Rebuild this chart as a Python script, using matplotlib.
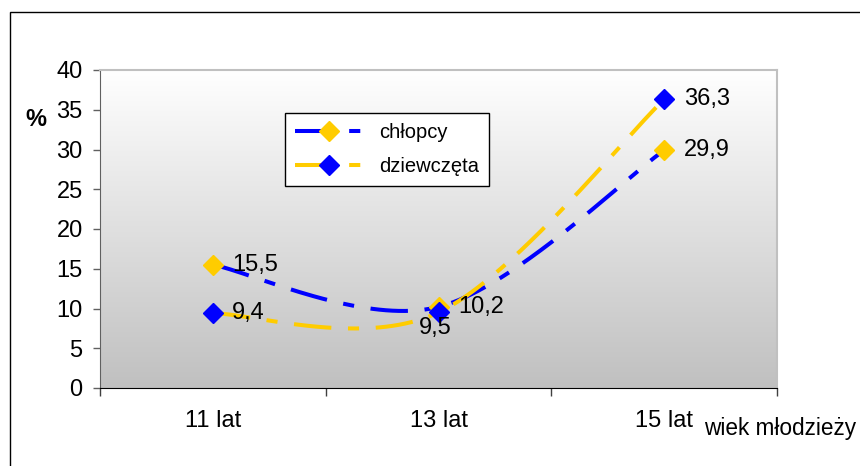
import numpy as np
import matplotlib
matplotlib.use("Agg")
import matplotlib.pyplot as plt
from matplotlib.lines import Line2D
from matplotlib.patches import Rectangle
from matplotlib.colors import LinearSegmentedColormap

plt.rcParams["font.family"] = ["Liberation Sans", "DejaVu Sans"]
plt.rcParams["lines.scale_dashes"] = False

# --- data -------------------------------------------------------------
categories = ["11 lat", "13 lat", "15 lat"]
chlopcy = [15.5, 10.2, 29.9]
dziewczeta = [9.4, 9.5, 36.3]
series_names = ["chłopcy", "dziewczęta"]
y_ticks = [0, 5, 10, 15, 20, 25, 30, 35, 40]
y_label = "%"
x_label = "wiek młodzieży"

# --- style ------------------------------------------------------------
BLUE = "#0000FF"
YELLOW = "#FFCC00"
DASH = (0, (27, 12, 8, 12))
LW = 2.9
MS = 10
FS = 17


def fmt(v):
    return f"{v:.1f}".replace(".", ",")


def smooth(xs, ys, n=80):
    """Bezier smoothing through every point (tension 1/6 of neighbour span)."""
    p = np.column_stack([xs, ys]).astype(float)
    out = []
    for i in range(len(p) - 1):
        prev = p[i - 1] if i > 0 else p[i]
        nxt = p[i + 2] if i + 2 < len(p) else p[i + 1]
        c1 = p[i] + (p[i + 1] - prev) / 6.0
        c2 = p[i + 1] - (nxt - p[i]) / 6.0
        t = np.linspace(0, 1, n)[:, None]
        seg = ((1 - t) ** 3) * p[i] + 3 * ((1 - t) ** 2) * t * c1 \
            + 3 * (1 - t) * t ** 2 * c2 + t ** 3 * p[i + 1]
        out.append(seg if i == 0 else seg[1:])
    s = np.vstack(out)
    return s[:, 0], s[:, 1]


fig = plt.figure(figsize=(8.6, 4.66), dpi=100)
ax = fig.add_axes([100 / 860, 1 - 388 / 466, 677 / 860, 318 / 466])

# plot-area gradient: white at the top fading to grey at the bottom
grad = LinearSegmentedColormap.from_list("bg", ["#ffffff", "#c0c0c0"])
ax.imshow(np.linspace(0, 1, 256).reshape(-1, 1), cmap=grad, aspect="auto",
          extent=[0, 1, 0, 1], transform=ax.transAxes, zorder=0,
          origin="upper", interpolation="bilinear")

x = np.arange(len(categories))
series = [
    (chlopcy, BLUE, YELLOW),
    (dziewczeta, YELLOW, BLUE),
]
for vals, lcol, mcol in series:
    sx, sy = smooth(x, vals)
    ax.plot(sx, sy, color=lcol, lw=LW, linestyle=DASH, zorder=3,
            solid_capstyle="butt", dash_capstyle="butt")
for vals, lcol, mcol in series:
    ax.plot(x, vals, linestyle="none", marker="D", ms=MS, mfc=mcol,
            mec=mcol, zorder=4)

# value labels
label_offsets = [
    [(14, 0), (14, 0), (14, 0)],
    [(14, 0), (-2, -11), (14, 0)],
]
for (vals, _, _), offs in zip(series, label_offsets):
    for xi, v, (dx, dy) in zip(x, vals, offs):
        ha = "left" if dx > 0 else "center"
        ax.annotate(fmt(v), (xi, v), xytext=(dx, dy),
                    textcoords="offset points", ha=ha, va="center",
                    fontsize=FS, zorder=5)

ax.set_xlim(-0.5, len(categories) - 0.5)
ax.set_ylim(min(y_ticks), max(y_ticks))

# y axis
ax.set_yticks(y_ticks)
ax.set_yticklabels([str(t) for t in y_ticks])
ax.tick_params(axis="y", direction="out", length=5, width=1,
               color="#606060", pad=7.5, labelsize=FS)

# x axis: tick marks between categories, labels at category centres
ax.set_xticks(np.arange(len(categories) + 1) - 0.5)
ax.set_xticklabels([])
ax.tick_params(axis="x", which="major", direction="out", length=6,
               width=1, color="#404040")
ax.set_xticks(x, minor=True)
ax.set_xticklabels(categories, minor=True)
ax.tick_params(axis="x", which="minor", length=0, pad=16, labelsize=FS)

for side in ("top", "right"):
    ax.spines[side].set_color("#c0c0c0")
    ax.spines[side].set_linewidth(1.5)
ax.spines["left"].set_color("#606060")
ax.spines["bottom"].set_color("black")

fig.text(36 / 860, 1 - 119 / 466, y_label, ha="center", va="center",
         fontsize=FS, fontweight="bold")
fig.text(704 / 860, 1 - 435 / 466, x_label, ha="left", va="baseline",
         fontsize=16.3)

handles = [
    Line2D([], [], color=lcol, lw=LW, linestyle=DASH, marker="D", ms=MS,
           mfc=mcol, mec=mcol)
    for _, lcol, mcol in series
]
leg = fig.legend(handles, series_names, loc="upper left",
                 bbox_to_anchor=(285 / 860, 1 - 113 / 466),
                 bbox_transform=fig.transFigure, borderaxespad=0,
                 fontsize=14.5, handlelength=3.4, handletextpad=0.75,
                 labelspacing=0.75, borderpad=0.5, numpoints=1,
                 fancybox=False, framealpha=1, edgecolor="black",
                 facecolor="white")
leg.get_frame().set_linewidth(1)

# outer chart frame
fig.patches.append(Rectangle((10 / 860, -0.2), 2, 1 - 12 / 466 + 0.2,
                             transform=fig.transFigure, fill=False,
                             ec="black", lw=1))

fig.savefig("out.png", dpi=100)
